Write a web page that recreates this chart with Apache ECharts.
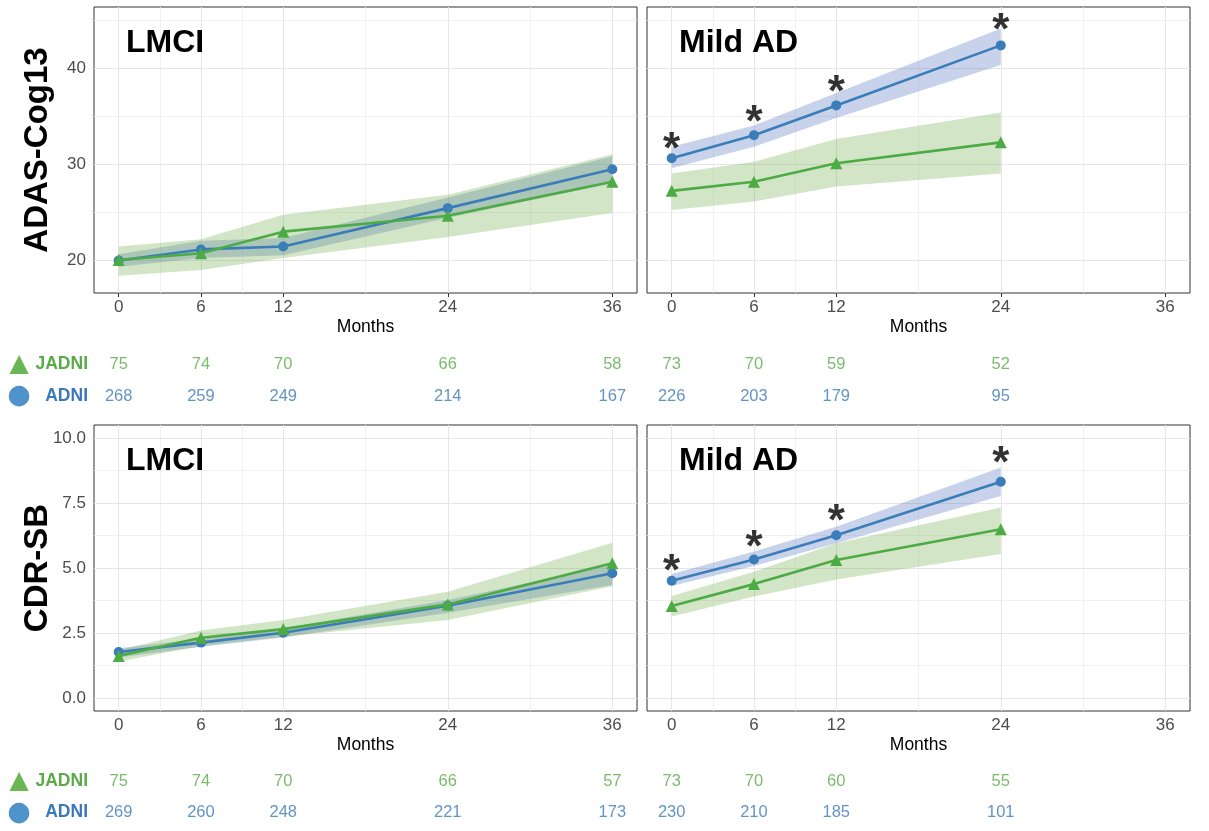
<!DOCTYPE html>
<html><head><meta charset="utf-8">
<script src="https://cdn.jsdelivr.net/npm/echarts@6/dist/echarts.min.js"></script>
<style>html,body{margin:0;padding:0;background:#fff}#c{width:1209px;height:831px}</style>
</head><body><div id="c"></div>
<script>
// ---------- DATA ----------
const months = [0, 6, 12, 24, 36];
const monthsAD = [0, 6, 12, 24];
const xTicks = [0, 6, 12, 24, 36];
const xMinor = [3, 9, 18, 30];
const adasTicks = [20, 30, 40];
const adasMinor = [25, 35, 45];
const cdrTicks = [0, 2.5, 5, 7.5, 10];
const cdrMinor = [1.25, 3.75, 6.25, 8.75];
const cdrTickLabels = ['0.0', '2.5', '5.0', '7.5', '10.0'];

// ADAS-Cog13, LMCI
const adasLmciJadni   = [20.0, 20.7, 22.95, 24.6, 28.15];
const adasLmciJadniLo = [18.35, 18.96, 20.2, 22.4, 24.9];
const adasLmciJadniHi = [21.4, 22.15, 24.7, 26.8, 31.0];
const adasLmciAdni    = [19.95, 21.1, 21.4, 25.4, 29.45];
const adasLmciAdniLo  = [19.3, 20.2, 20.5, 24.4, 28.0];
const adasLmciAdniHi  = [20.6, 22.0, 22.3, 26.5, 30.8];
// ADAS-Cog13, Mild AD
const adasAdJadni   = [27.2, 28.15, 30.07, 32.25];
const adasAdJadniLo = [25.2, 26.1, 27.65, 29.0];
const adasAdJadniHi = [29.0, 30.24, 32.6, 35.35];
const adasAdAdni    = [30.6, 33.0, 36.1, 42.35];
const adasAdAdniLo  = [29.55, 31.8, 34.8, 40.3];
const adasAdAdniHi  = [31.8, 34.0, 37.4, 44.1];
const adasAdStar    = [32.5, 35.3, 38.5, 44.95];
// CDR-SB, LMCI
const cdrLmciJadni   = [1.62, 2.32, 2.65, 3.6, 5.18];
const cdrLmciJadniLo = [1.4, 2.0, 2.36, 3.0, 4.3];
const cdrLmciJadniHi = [1.85, 2.6, 3.0, 4.09, 5.97];
const cdrLmciAdni    = [1.77, 2.13, 2.51, 3.55, 4.8];
const cdrLmciAdniLo  = [1.56, 1.97, 2.33, 3.28, 4.35];
const cdrLmciAdniHi  = [1.91, 2.28, 2.68, 3.77, 5.12];
// CDR-SB, Mild AD
const cdrAdJadni   = [3.54, 4.38, 5.31, 6.49];
const cdrAdJadniLo = [3.13, 3.9, 4.56, 5.54];
const cdrAdJadniHi = [3.92, 4.86, 5.95, 7.33];
const cdrAdAdni    = [4.51, 5.33, 6.26, 8.32];
const cdrAdAdniLo  = [4.31, 5.08, 5.95, 7.77];
const cdrAdAdniHi  = [4.77, 5.63, 6.59, 8.87];
const cdrAdStar    = [5.24, 6.15, 7.17, 9.38];

// Numbers at risk
const nAdasLmciJadni = [75, 74, 70, 66, 58];
const nAdasLmciAdni  = [268, 259, 249, 214, 167];
const nAdasAdJadni   = [73, 70, 59, 52];
const nAdasAdAdni    = [226, 203, 179, 95];
const nCdrLmciJadni  = [75, 74, 70, 66, 57];
const nCdrLmciAdni   = [269, 260, 248, 221, 173];
const nCdrAdJadni    = [73, 70, 60, 55];
const nCdrAdAdni     = [230, 210, 185, 101];

const rowCats = ['ADNI', 'JADNI'];

// ---------- STYLE ----------
const BLUE = '#3a7db8', GREEN = '#4dab45';
const BLUE_FILL = 'rgba(72,110,190,0.30)', GREEN_FILL = 'rgba(105,170,70,0.30)';
const FONT = 'Liberation Sans';
const XMIN = -1.8, XMAX = 37.8;

const panels = [
  {left: 94, top: 7, ylo: 16.56, yhi: 46.35, yt: adasTicks, ym: adasMinor, ylab: null, yname: 'ADAS-Cog13', showYLabel: true,
   mx: months, jadni: adasLmciJadni, jlo: adasLmciJadniLo, jhi: adasLmciJadniHi, adni: adasLmciAdni, alo: adasLmciAdniLo, ahi: adasLmciAdniHi, star: null, title: 'LMCI'},
  {left: 647, top: 7, ylo: 16.56, yhi: 46.35, yt: adasTicks, ym: adasMinor, ylab: null, yname: '', showYLabel: false,
   mx: monthsAD, jadni: adasAdJadni, jlo: adasAdJadniLo, jhi: adasAdJadniHi, adni: adasAdAdni, alo: adasAdAdniLo, ahi: adasAdAdniHi, star: adasAdStar, title: 'Mild AD'},
  {left: 94, top: 425, ylo: -0.5, yhi: 10.5, yt: cdrTicks, ym: cdrMinor, ylab: cdrTickLabels, yname: 'CDR-SB', showYLabel: true,
   mx: months, jadni: cdrLmciJadni, jlo: cdrLmciJadniLo, jhi: cdrLmciJadniHi, adni: cdrLmciAdni, alo: cdrLmciAdniLo, ahi: cdrLmciAdniHi, star: null, title: 'LMCI'},
  {left: 647, top: 425, ylo: -0.5, yhi: 10.5, yt: cdrTicks, ym: cdrMinor, ylab: cdrTickLabels, yname: '', showYLabel: false,
   mx: monthsAD, jadni: cdrAdJadni, jlo: cdrAdJadniLo, jhi: cdrAdJadniHi, adni: cdrAdAdni, alo: cdrAdAdniLo, ahi: cdrAdAdniHi, star: cdrAdStar, title: 'Mild AD'}
];
const tables = [
  {left: 94, top: 348, height: 64, mx: months, j: nAdasLmciJadni, a: nAdasLmciAdni, labels: true},
  {left: 647, top: 348, height: 64, mx: monthsAD, j: nAdasAdJadni, a: nAdasAdAdni, labels: false},
  {left: 94, top: 766, height: 62, mx: months, j: nCdrLmciJadni, a: nCdrLmciAdni, labels: true},
  {left: 647, top: 766, height: 62, mx: monthsAD, j: nCdrAdJadni, a: nCdrAdAdni, labels: false}
];

const grid = [], xAxis = [], yAxis = [], series = [], title = [];
const PW = 543, PH = 286;

panels.forEach((p, i) => {
  grid.push({left: p.left, top: p.top, width: PW, height: PH, show: true, borderColor: '#333', borderWidth: 1, backgroundColor: '#fff', z: 0});
  xAxis.push({
    type: 'value', gridIndex: i, min: XMIN, max: XMAX,
    name: 'Months', nameLocation: 'middle', nameGap: 25, nameMoveOverlap: false,
    nameTextStyle: {fontFamily: FONT, fontSize: 17.5, color: '#000'},
    axisLine: {show: false}, splitLine: {show: false},
    axisTick: {show: true, customValues: xTicks, length: 4, lineStyle: {color: '#333', width: 1}},
    axisLabel: {customValues: xTicks, margin: 6, fontFamily: FONT, fontSize: 17, color: '#4d4d4d'}
  });
  yAxis.push({
    type: 'value', gridIndex: i, min: p.ylo, max: p.yhi,
    name: p.yname, nameLocation: 'middle', nameGap: 40, nameMoveOverlap: false,
    nameTextStyle: {fontFamily: FONT, fontSize: 33, fontWeight: 'bold', color: '#000'},
    axisLine: {show: false}, splitLine: {show: false},
    axisTick: {show: true, customValues: p.yt, length: 4, lineStyle: {color: '#333', width: 1}},
    axisLabel: {show: p.showYLabel, customValues: p.yt, margin: 8, fontFamily: FONT, fontSize: 17, color: '#4d4d4d',
      formatter: (v) => { if (!p.ylab) return String(v); const k = p.yt.indexOf(v); return k >= 0 ? p.ylab[k] : String(v); }}
  });
  // grid lines through markLine
  const ml = [];
  xTicks.forEach(v => ml.push({xAxis: v, lineStyle: {color: '#e6e6e6', width: 1, type: 'solid'}}));
  xMinor.forEach(v => ml.push({xAxis: v, lineStyle: {color: '#eeeeee', width: 0.8, type: 'solid'}}));
  p.yt.forEach(v => ml.push({yAxis: v, lineStyle: {color: '#e6e6e6', width: 1, type: 'solid'}}));
  p.ym.forEach(v => { if (v > p.ylo && v < p.yhi) ml.push({yAxis: v, lineStyle: {color: '#eeeeee', width: 0.8, type: 'solid'}}); });
  series.push({
    type: 'line', xAxisIndex: i, yAxisIndex: i, data: [[p.mx[0], p.adni[0]]], symbol: 'none', lineStyle: {opacity: 0},
    silent: true, z: 1,
    markLine: {silent: true, z: 1, symbol: ['none', 'none'], label: {show: false}, animation: false,
      lineStyle: {type: 'solid'}, emphasis: {disabled: true}, data: ml}
  });
  // ribbons
  const ribbon = (lo, hi, fill, z) => ({
    type: 'custom', xAxisIndex: i, yAxisIndex: i, z: z, silent: true,
    data: p.mx.map((m, k) => [m, lo[k], hi[k]]),
    encode: {x: 0, y: [1, 2]},
    renderItem: (params, api) => {
      if (params.dataIndex !== 0) return null;
      const pts = [];
      for (let k = 0; k < p.mx.length; k++) pts.push(api.coord([p.mx[k], hi[k]]));
      for (let k = p.mx.length - 1; k >= 0; k--) pts.push(api.coord([p.mx[k], lo[k]]));
      return {type: 'polygon', shape: {points: pts}, style: {fill: fill}};
    }
  });
  series.push(ribbon(p.alo, p.ahi, BLUE_FILL, 2));
  series.push(ribbon(p.jlo, p.jhi, GREEN_FILL, 3));
  series.push({
    type: 'line', xAxisIndex: i, yAxisIndex: i, z: 6, name: 'ADNI',
    data: p.mx.map((m, k) => [m, p.adni[k]]),
    symbol: 'circle', symbolSize: 10, showAllSymbol: true,
    lineStyle: {color: BLUE, width: 2.6}, itemStyle: {color: BLUE}, animation: false
  });
  series.push({
    type: 'line', xAxisIndex: i, yAxisIndex: i, z: 7, name: 'JADNI',
    data: p.mx.map((m, k) => [m, p.jadni[k]]),
    symbol: 'triangle', symbolSize: 12, showAllSymbol: true,
    lineStyle: {color: GREEN, width: 2.6}, itemStyle: {color: GREEN}, animation: false
  });
  if (p.star) {
    series.push({
      type: 'scatter', xAxisIndex: i, yAxisIndex: i, z: 8, symbolSize: 0, silent: true,
      data: p.mx.map((m, k) => [m, p.star[k]]),
      label: {show: true, position: 'inside', formatter: '*', offset: [0, 11], fontFamily: FONT, fontWeight: 'bold', fontSize: 44, color: '#000'}
    });
  }
  title.push({text: p.title, left: p.left + 27, top: p.top + 15,
    textStyle: {fontFamily: FONT, fontWeight: 'bold', fontSize: 32, color: '#000'}});
});

// number-at-risk tables
tables.forEach((t, ti) => {
  const gi = panels.length + ti;
  grid.push({left: t.left, top: t.top, width: PW, height: t.height, show: false});
  xAxis.push({type: 'value', gridIndex: gi, min: XMIN, max: XMAX, show: false});
  yAxis.push({
    type: 'category', gridIndex: gi, data: rowCats, show: t.labels,
    axisLine: {show: false}, axisTick: {show: false}, splitLine: {show: false},
    axisLabel: {
      show: t.labels, margin: 6,
      formatter: (v) => v === 'JADNI' ? '{tri|▲}{j|JADNI}' : '{cir|●}{a|ADNI}',
      rich: {
        tri: {fontFamily: 'DejaVu Sans', fontSize: 25, color: '#6ab655', width: 26, align: 'center'},
        cir: {fontFamily: 'DejaVu Sans', fontSize: 27, color: '#4f93cb', width: 26, align: 'center'},
        j: {fontFamily: FONT, fontWeight: 'bold', fontSize: 17.5, color: '#5aaa48', width: 56, align: 'right'},
        a: {fontFamily: FONT, fontWeight: 'bold', fontSize: 17.5, color: '#3b78b8', width: 56, align: 'right'}
      }
    }
  });
  const mk = (vals, cat, color) => ({
    type: 'scatter', xAxisIndex: gi, yAxisIndex: gi, symbolSize: 0, silent: true,
    data: t.mx.map((m, k) => [m, cat, vals[k]]),
    label: {show: true, position: 'inside', formatter: (d) => String(d.value[2]), fontFamily: FONT, fontSize: 16.5, color: color}
  });
  series.push(mk(t.j, 'JADNI', '#5aaa48'));
  series.push(mk(t.a, 'ADNI', '#3b78b8'));
});

const chart = echarts.init(document.getElementById('c'), null, {renderer: 'canvas'});
chart.setOption({animation: false, backgroundColor: '#fff', title, grid, xAxis, yAxis, series});
</script></body></html>
